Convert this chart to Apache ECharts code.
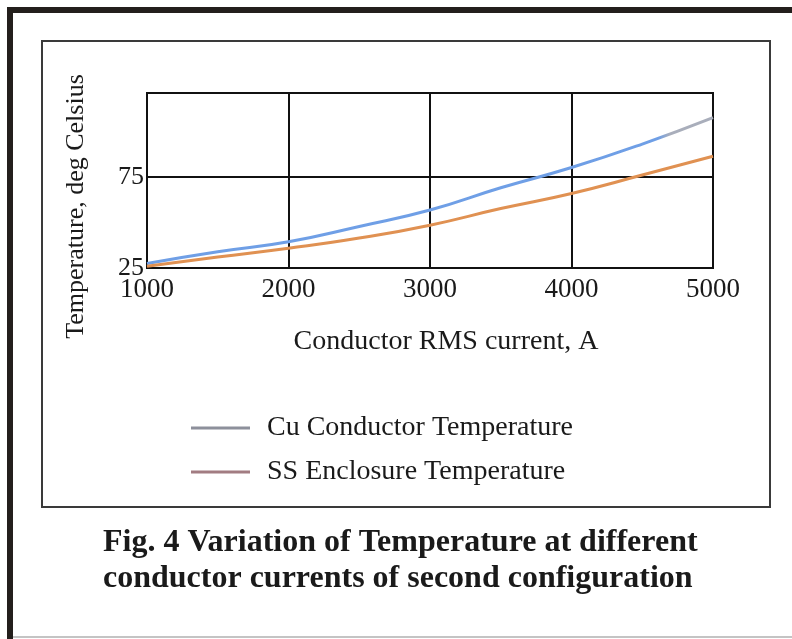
<!DOCTYPE html>
<html>
<head>
<meta charset="utf-8">
<script src="https://cdn.jsdelivr.net/npm/echarts@6/dist/echarts.min.js"></script>
<style>
html,body{margin:0;padding:0;background:#fff;}
#chart{width:792px;height:639px;}
</style>
</head>
<body>
<div id="chart"></div>
<script>
// ---- data ----
var currents = [1000, 1500, 2000, 2500, 3000, 3500, 4000, 4500, 5000];
var cuTemps  = [27.5, 33.9, 39.4, 47.8, 56.8, 69.0, 80.1, 93.0, 107.5];
var ssTemps  = [26.0, 31.0, 35.8, 41.4, 48.5, 57.6, 65.9, 76.0, 86.3];
var xTicks = [1000, 2000, 3000, 4000, 5000];
var yTicks = [25, 75];
var seriesNames = ['Cu Conductor Temperature', 'SS Enclosure Temperature'];
var xTitle = 'Conductor RMS current, A';
var yTitle = 'Temperature, deg Celsius';
var captionLines = ['Fig. 4 Variation of Temperature at different', 'conductor currents of second configuration'];

function pairs(xs, ys) { return xs.map(function (x, i) { return [x, ys[i]]; }); }

var serif = '"Liberation Serif", "DejaVu Serif", serif';
var chart = echarts.init(document.getElementById('chart'), null, {renderer: 'canvas'});

var option = {
  backgroundColor: '#ffffff',
  animation: false,
  title: {
    text: captionLines.join('\n'),
    left: 103,
    top: 525,
    padding: [0, 0, 0, 0],
    textStyle: {fontFamily: serif, fontWeight: 'bold', fontSize: 32, lineHeight: 36, color: '#1a1a1a'}
  },
  legend: {
    orient: 'vertical',
    left: 186,
    top: 409,
    itemWidth: 59,
    itemHeight: 3,
    itemGap: 16,
    textStyle: {fontFamily: serif, fontSize: 28, color: '#1a1a1a', padding: [0, 0, 0, 12]},
    data: [
      {name: seriesNames[0], icon: 'rect', itemStyle: {color: '#8d909b'}},
      {name: seriesNames[1], icon: 'rect', itemStyle: {color: '#a27c82'}}
    ]
  },
  grid: {
    left: 147, right: 79, top: 93, bottom: 371,
    show: true, borderColor: '#111', borderWidth: 2, backgroundColor: 'transparent'
  },
  xAxis: {
    type: 'value', min: 1000, max: 5000, interval: 1000,
    name: xTitle, nameLocation: 'middle', nameGap: 60,
    nameTextStyle: {fontFamily: serif, fontSize: 28, color: '#1a1a1a', padding: [0, 0, 0, 32]},
    axisLine: {show: true, lineStyle: {color: '#111', width: 2}},
    axisTick: {show: false},
    splitLine: {show: true, lineStyle: {color: '#111', width: 2}},
    axisLabel: {
      fontFamily: serif, fontSize: 27, color: '#1a1a1a', margin: 8,
      formatter: function (v) { return xTicks.indexOf(v) >= 0 ? String(v) : ''; }
    }
  },
  yAxis: {
    type: 'value', min: 25, max: 121, interval: 50,
    name: yTitle, nameLocation: 'middle', nameGap: 58, nameRotate: 90,
    nameTextStyle: {fontFamily: serif, fontSize: 26, color: '#1a1a1a', padding: [0, 52, 0, 0]},
    axisLine: {show: true, lineStyle: {color: '#111', width: 2}},
    axisTick: {show: false},
    splitLine: {show: true, lineStyle: {color: '#111', width: 2}},
    axisLabel: {
      fontFamily: serif, fontSize: 26, color: '#1a1a1a', margin: 3,
      padding: [0, 0, 12, 0],
      hideOverlap: false,
      formatter: function (v) { return yTicks.indexOf(v) >= 0 ? String(v) : ''; }
    }
  },
  graphic: [
    {type: 'line', shape: {x1: 7, y1: 10, x2: 792, y2: 10}, style: {stroke: '#231f1c', lineWidth: 6}, silent: true},
    {type: 'line', shape: {x1: 10, y1: 7, x2: 10, y2: 639}, style: {stroke: '#231f1c', lineWidth: 6}, silent: true},
    {type: 'line', shape: {x1: 13, y1: 637, x2: 792, y2: 637}, style: {stroke: '#c4c4c4', lineWidth: 2}, silent: true},
    {type: 'rect', shape: {x: 42, y: 41, width: 728, height: 466}, style: {fill: 'none', stroke: '#3a3a3a', lineWidth: 2}, silent: true}
  ],
  series: [
    {
      name: seriesNames[0], type: 'line', smooth: true, symbol: 'none',
      data: pairs(currents, cuTemps), z: 3,
      itemStyle: {color: '#8d909b'},
      lineStyle: {width: 3, color: {
        type: 'linear', x: 0, y: 0, x2: 1, y2: 0,
        colorStops: [{offset: 0, color: '#6f9fe6'}, {offset: 0.9, color: '#6f9fe6'}, {offset: 0.92, color: '#a9aebb'}, {offset: 1, color: '#a9aebb'}]
      }}
    },
    {
      name: seriesNames[1], type: 'line', smooth: true, symbol: 'none',
      data: pairs(currents, ssTemps), z: 3,
      itemStyle: {color: '#a27c82'},
      lineStyle: {width: 3, color: '#e09152'}
    }
  ]
};
chart.setOption(option);
</script>
</body>
</html>
